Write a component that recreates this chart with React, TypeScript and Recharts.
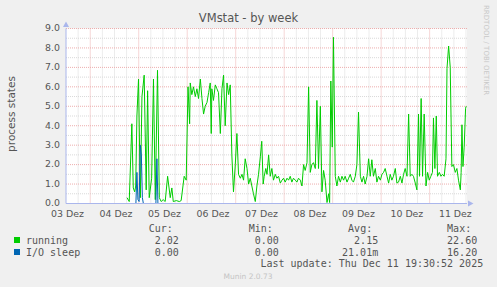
import React from 'react';
import { LineChart, Line, XAxis, YAxis, CartesianGrid } from 'recharts';

// time in hours since 03 Dez 00:00
const runHours = [42.2,43.3,44.6,45.3,46.0,46.5,47.1,47.9,48.8,49.6,50.7,51.7,52.4,53.2,54.4,55.3,56.2,57.3,58.2,59.1,60.1,61.1,62.3,63.6,64.4,65.1,66.6,68.1,69.0,70.5,71.5,72.4,73.2,73.5,74.3,75.1,76.0,76.8,77.6,78.5,79.3,80.1,80.9,81.8,82.6,83.4,83.9,84.2,85.0,85.9,86.7,87.5,88.4,89.2,90.0,90.8,91.7,92.5,93.3,94.1,94.9,95.8,96.6,97.4,98.3,99.1,99.9,100.7,101.6,102.4,103.2,104.0,104.8,105.7,106.5,107.3,108.2,108.9,109.6,110.1,110.9,111.5,112.3,113.1,113.9,114.7,115.6,116.4,117.2,118.1,118.9,119.7,120.5,121.4,122.2,123.0,123.8,124.6,125.5,126.3,127.1,128.0,128.8,129.6,130.4,131.3,132.1,132.9,133.7,134.5,135.4,136.2,137.0,137.9,138.7,139.5,140.3,141.2,142.0,142.5,143.1,143.8,144.4,145.3,146.1,146.9,147.8,148.6,149.4,150.2,151.1,151.9,152.7,153.5,154.3,155.2,156.0,156.8,157.7,158.5,159.3,160.1,161.0,161.8,162.6,163.4,164.2,165.1,165.9,166.7,167.6,168.4,169.2,170.0,170.9,171.7,172.5,173.3,174.1,175.0,175.8,176.6,177.5,178.3,179.1,179.9,180.8,181.6,182.4,183.2,184.0,184.9,185.7,186.5,187.0,187.8,188.5,189.3,190.2,191.0,191.8,192.6,193.4,193.9,194.6,195.3,195.9,196.8,197.6,198.4,199.2,200.1,200.6,201.4,202.2,203.0,203.8,204.7,205.5,206.3,207.2,207.6,208.0,208.5,209.1,209.8,210.1];
const running = [0.3,0.1,4.1,0.8,0.6,0.9,4.5,6.4,0.3,5.5,6.6,0.7,5.8,0.3,1.3,6.4,0.2,6.85,0.3,0.1,0.2,0.1,1.4,0.3,0.8,0.1,0.15,0.1,0.15,1.4,1.2,6.0,4.1,6.2,5.6,6.0,5.5,5.9,5.4,6.4,5.4,4.6,5.0,5.2,5.7,6.2,3.6,5.9,5.3,6.1,5.9,5.7,3.6,5.9,6.6,4.0,6.2,5.6,6.1,2.5,0.6,2.0,3.6,1.5,1.3,1.5,1.2,2.3,1.8,1.0,1.3,0.9,0.5,0.1,0.9,1.5,2.4,3.2,1.0,1.4,1.8,1.5,2.5,1.4,1.8,1.2,1.5,1.3,1.4,1.05,1.2,1.3,1.1,1.3,1.2,1.4,1.1,1.3,1.2,1.1,1.3,1.2,0.9,2.0,1.7,2.1,6.0,1.6,2.0,2.1,1.8,5.3,1.8,5.0,0.6,1.7,1.2,0.05,0.5,0.05,6.3,2.9,8.55,1.4,0.9,1.4,1.1,1.4,1.2,1.4,1.1,1.3,1.5,1.2,1.1,1.4,2.0,4.7,1.4,1.1,1.4,1.0,1.4,2.3,1.4,2.25,1.4,1.8,1.1,1.4,1.2,1.5,1.6,1.8,1.4,1.05,1.5,1.2,1.4,1.8,1.05,1.1,1.4,1.05,1.5,1.8,1.4,4.6,1.4,1.5,1.4,1.05,0.7,4.6,1.4,5.4,1.4,4.6,0.9,1.6,1.2,1.4,1.6,4.4,1.8,4.5,1.4,1.6,1.4,1.5,1.4,2.3,6.95,8.1,7.0,1.9,2.0,1.6,1.8,1.2,0.7,1.6,4.05,1.9,2.9,4.9,5.0];
const ioHours = [46.6,47.1,47.6,48.2,48.8,49.3,49.8,50.3,56.5,57.0,57.5];
const ioSleep = [0,1.6,0.2,0.1,3.0,2.5,0.3,0,0,2.3,0];

const dayLabelHours = [12,36,60,84,108,132,156,180,204];
const dayLabels = ['03 Dez','04 Dez','05 Dez','06 Dez','07 Dez','08 Dez','09 Dez','10 Dez','11 Dez'];
const dayBoundaryHours = [24,48,72,96,120,144,168,192];
const sixHourGrid = [18,30,36,42,54,60,66,78,84,90,102,108,114,126,132,138,150,156,162,174,180,186,198,204,210];
const yMajor = [0,1,2,3,4,5,6,7,8,9];
const yMinor = [0.5,1.5,2.5,3.5,4.5,5.5,6.5,7.5,8.5];

const legendHeaders = ['Cur:','Min:','Avg:','Max:'];
const seriesNames = ['running','I/O sleep'];
const seriesColors = ['#00CC00','#0066B3'];
const curValues = ['2.02','0.00'];
const minValues = ['0.00','0.00'];
const avgValues = ['2.15','21.01m'];
const maxValues = ['22.60','16.20'];

const runData = runHours.map((t, i) => ({ t, v: running[i] }));
const ioData = ioHours.map((t, i) => ({ t, v: ioSleep[i] }));

const W = 497;
const H = 287;
const AXIS = '#AAB6EC';
const TXT = '#555555';
const SANS = '"DejaVu Sans", sans-serif';
const MONO = '"DejaVu Sans Mono", monospace';
const colRight = [178.8, 278.8, 378.2, 477.2];

export default function App() {
  return (
    <div style={{ position: 'absolute', left: 0, top: 0, width: W, height: H, background: '#F0F0F0', overflow: 'hidden' }}>
      <LineChart width={W} height={H} margin={{ top: 28.5, right: 30, left: 0, bottom: 0 }}>
        <CartesianGrid fill="#FFFFFF" stroke="#D9D9D9" strokeDasharray="1 1"
          horizontalValues={yMinor} verticalValues={sixHourGrid} />
        <CartesianGrid stroke="#EDAEAE" strokeDasharray="1 1"
          horizontalValues={yMajor} verticalValues={dayBoundaryHours} />
        <XAxis type="number" dataKey="t" domain={[12, 210.5]} allowDataOverflow
          ticks={dayLabelHours} tickFormatter={(v) => dayLabels[dayLabelHours.indexOf(v)] ?? ''}
          height={83.5} tickSize={0} tickMargin={6.5} interval={0}
          axisLine={{ stroke: AXIS }} tick={{ fill: TXT, fontSize: 9.4, fontFamily: SANS, dx: 1.5 }} />
        <YAxis type="number" domain={[0, 9]} ticks={yMajor} allowDataOverflow width={66}
          tickFormatter={(v) => Number(v).toFixed(1)} tickSize={0} tickMargin={6} interval={0}
          axisLine={{ stroke: AXIS }} tick={{ fill: TXT, fontSize: 9.4, fontFamily: SANS, dy: -0.5 }} />
        <Line data={runData} dataKey="v" stroke={seriesColors[0]} strokeWidth={1} dot={false}
          isAnimationActive={false} type="linear" />
        <Line data={ioData} dataKey="v" stroke={seriesColors[1]} strokeWidth={1} dot={false}
          isAnimationActive={false} type="linear" />
      </LineChart>
      <svg width={W} height={H} style={{ position: 'absolute', left: 0, top: 0, pointerEvents: 'none' }}>
        <polygon points="63,27 69,27 66,21.5" fill={AXIS} />
        <polygon points="468,200.5 468,206.5 473.5,203.5" fill={AXIS} />
        <text x={248.5} y={22.3} textAnchor="middle" fontFamily={SANS} fontSize={11.5} fill={TXT}>VMstat - by week</text>
        <text transform="translate(15,114) rotate(-90)" textAnchor="middle" fontFamily={SANS} fontSize={10.5} fill={TXT}>process states</text>
        <text transform="translate(484,5) rotate(90)" fontFamily={SANS} fontSize={7} fill="#C8C8C8">RRDTOOL / TOBI OETIKER</text>
        {legendHeaders.map((h, i) => (
          <text key={h} x={colRight[i] - 6} y={231.5} textAnchor="end" fontFamily={MONO} fontSize={10} fill={TXT}>{h}</text>
        ))}
        {seriesNames.map((name, r) => {
          const y = 243.5 + r * 12;
          const vals = [curValues[r], minValues[r], avgValues[r], maxValues[r]];
          return (
            <g key={name}>
              <rect x={14} y={y - 6.5} width={6} height={6} fill={seriesColors[r]} />
              <text x={26} y={y} fontFamily={MONO} fontSize={10} fill={TXT}>{name}</text>
              {vals.map((v, i) => (
                <text key={i} x={colRight[i]} y={y} textAnchor="end" fontFamily={MONO} fontSize={10} fill={TXT}>{v}</text>
              ))}
            </g>
          );
        })}
        <text x={483.2} y={267.3} textAnchor="end" fontFamily={MONO} fontSize={10} fill={TXT}>Last update: Thu Dec 11 19:30:52 2025</text>
        <text x={248} y={279} textAnchor="middle" fontFamily={SANS} fontSize={7.5} fill="#C4C4C4">Munin 2.0.73</text>
      </svg>
    </div>
  );
}
